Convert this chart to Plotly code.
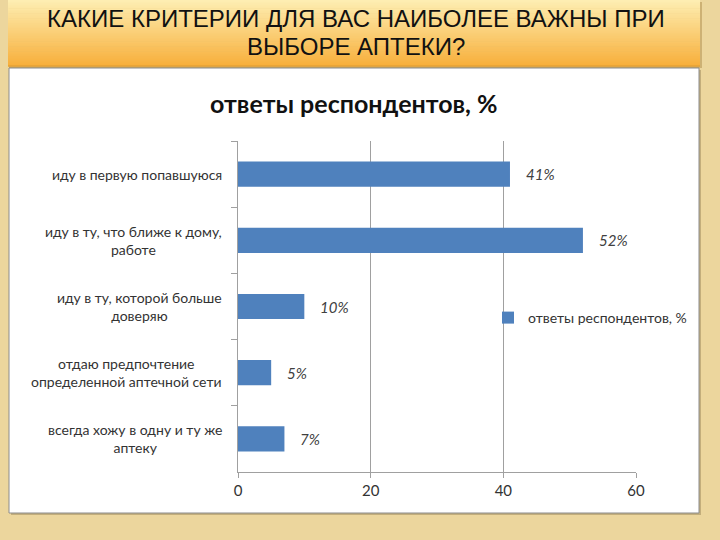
import plotly.graph_objects as go

categories = [
    "иду в первую попавшуюся",
    "иду в ту, что ближе к дому,<br>работе",
    "иду в ту, которой больше<br>доверяю",
    "отдаю предпочтение<br>определенной аптечной сети",
    "всегда хожу в одну и ту же<br>аптеку",
]
values = [41, 52, 10, 5, 7]
series_name = "ответы респондентов, %"
slide_title_lines = ["КАКИЕ КРИТЕРИИ ДЛЯ ВАС НАИБОЛЕЕ ВАЖНЫ ПРИ", "ВЫБОРЕ АПТЕКИ?"]
chart_title = "ответы респондентов, %"
x_ticks = [0, 20, 40, 60]

W, H = 720, 540
L, R, T, B = 238, 636, 141, 472  # plot area in pixels
BAR = "#4f81bd"
TXT = "#333333"
GRID = "#a0a0a0"
FONT = "Lato, Noto Sans, sans-serif"


def px(x):
    return (x - L) / (R - L)


def py(y):
    return (B - y) / (B - T)


fig = go.Figure()
fig.add_trace(go.Bar(
    x=values, y=categories, orientation="h",
    marker=dict(color=BAR, line=dict(width=0)),
    name=series_name, showlegend=True,
    hoverinfo="x+y",
))

shapes = []
# panel shadow + white chart panel
shapes.append(dict(type="rect", xref="paper", yref="paper",
                   x0=px(11), x1=px(701), y0=py(515), y1=py(70),
                   fillcolor="rgba(120,100,60,0.35)", line=dict(width=0),
                   layer="below"))
shapes.append(dict(type="rect", xref="paper", yref="paper",
                   x0=px(9), x1=px(699), y0=py(513), y1=py(68),
                   fillcolor="white", line=dict(color="#8c8c8c", width=1),
                   layer="below"))
# header shadow
shapes.append(dict(type="rect", xref="paper", yref="paper",
                   x0=px(9), x1=px(702), y0=py(68), y1=py(2),
                   fillcolor="rgba(150,110,40,0.35)", line=dict(width=0),
                   layer="below"))
# header gradient strips
top_c = (254, 238, 178)
bot_c = (248, 176, 60)
n = 40
h0, h1 = 0, 66
for i in range(n):
    t = i / (n - 1)
    c = tuple(int(top_c[k] + (bot_c[k] - top_c[k]) * t) for k in range(3))
    y0 = h0 + (h1 - h0) * i / n
    y1 = h0 + (h1 - h0) * (i + 1) / n + 0.6
    shapes.append(dict(type="rect", xref="paper", yref="paper",
                       x0=px(8), x1=px(700), y0=py(y1), y1=py(y0),
                       fillcolor="rgb(%d,%d,%d)" % c, line=dict(width=0),
                       layer="below"))
shapes.append(dict(type="line", xref="paper", yref="paper",
                   x0=px(8), x1=px(700), y0=py(66), y1=py(66),
                   line=dict(color="#dc9a30", width=1), layer="below"))

annotations = []
for line, yc in zip(slide_title_lines, [19, 46]):
    annotations.append(dict(text=line, x=px(356), y=py(yc), xref="paper", yref="paper",
                            xanchor="center", yanchor="middle", showarrow=False,
                            font=dict(family="Liberation Sans Narrow, Arial Narrow, Liberation Sans, sans-serif",
                                      size=24, color="#111111")))
annotations.append(dict(text="<b>" + chart_title + "</b>", x=px(354), y=py(103),
                        xref="paper", yref="paper",
                        xanchor="center", yanchor="middle", showarrow=False,
                        font=dict(family=FONT, size=25, color="#111111")))
# category labels (centered multi-line, right edge near the axis)
for c in categories:
    annotations.append(dict(x=0, y=c, xref="x", yref="y", text=c,
                            xanchor="right", yanchor="middle", xshift=-14, align="center",
                            showarrow=False,
                            font=dict(family=FONT, size=14, color=TXT)))
# value labels
for v, c in zip(values, categories):
    annotations.append(dict(x=v, y=c, xref="x", yref="y", text="<i>%d%%</i>" % v,
                            xanchor="left", yanchor="middle", xshift=14, showarrow=False,
                            font=dict(family=FONT, size=15, color="#404040")))

fig.update_layout(
    width=W, height=H,
    margin=dict(l=L, r=W - R, t=T, b=H - B, pad=0),
    paper_bgcolor="#ecd69d",
    plot_bgcolor="white",
    shapes=shapes,
    annotations=annotations,
    bargap=0.62,
    font=dict(family=FONT, size=14, color=TXT),
    legend=dict(x=px(488), y=py(318), xref="paper", yref="paper",
                xanchor="left", yanchor="middle", bgcolor="rgba(0,0,0,0)",
                font=dict(family=FONT, size=14, color=TXT)),
    xaxis=dict(range=[0, 60], tickvals=x_ticks, ticks="outside", ticklen=5,
               tickcolor=GRID, showgrid=True, gridcolor=GRID, gridwidth=1,
               showline=True, linecolor=GRID, zeroline=False,
               tickfont=dict(family=FONT, size=15, color=TXT), fixedrange=True),
    yaxis=dict(autorange="reversed", ticks="outside", ticklen=6, tickson="boundaries",
               tickcolor=GRID, showline=True, linecolor=GRID, showgrid=False,
               showticklabels=False, fixedrange=True),
)

fig.write_html("out.html")
